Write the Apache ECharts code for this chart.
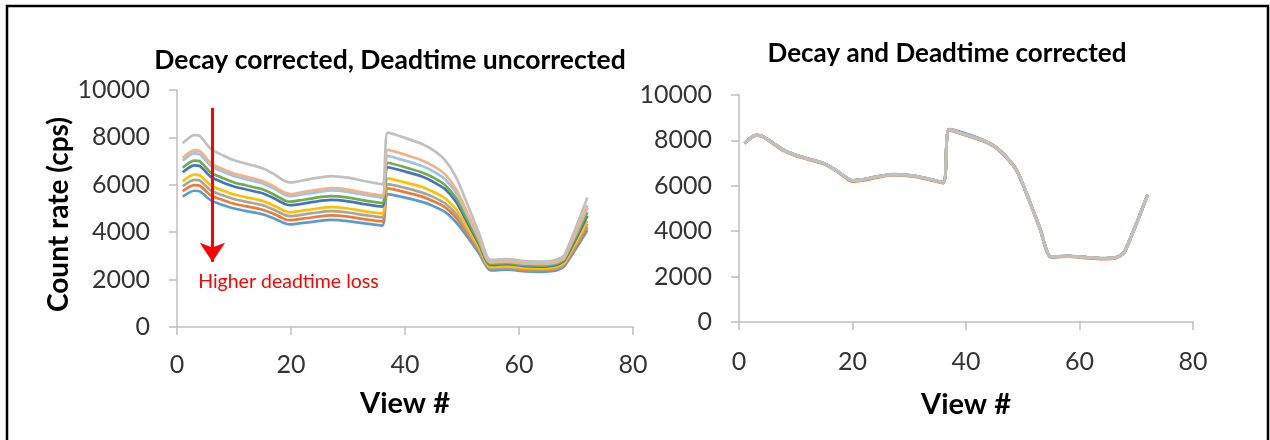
<!DOCTYPE html>
<html>
<head>
<meta charset="utf-8">
<script src="https://cdn.jsdelivr.net/npm/echarts@6/dist/echarts.min.js"></script>
<style>
html,body{margin:0;padding:0;background:#fff;}
#chart{width:1270px;height:440px;}
</style>
</head>
<body>
<div id="chart"></div>
<script>
// ---- data ----
const views = [1,3,4,6,8,10,12,15,17,19,20,22,24,27,30,33,36,37,40,43,45,47,49,51,53,55,58,61,64,66,67,68,72];

// Left chart: decay corrected, deadtime uncorrected (top to bottom)
const uncorrLightGray = [7750,8100,8060,7500,7250,7040,6900,6700,6450,6150,6100,6180,6270,6370,6300,6150,6030,8200,7980,7720,7450,7050,6300,5150,3950,2830,2860,2780,2760,2800,2880,3050,5470];
const uncorrSalmon    = [7130,7450,7420,6900,6670,6480,6350,6160,5930,5660,5610,5690,5770,5860,5800,5660,5550,7470,7270,7030,6790,6450,5800,4790,3750,2750,2770,2700,2680,2720,2790,2960,5140];
const uncorrLightBlue = [7010,7330,7290,6790,6560,6370,6240,6060,5840,5570,5520,5590,5670,5760,5700,5570,5460,7220,7020,6790,6560,6240,5640,4690,3690,2720,2750,2670,2650,2690,2760,2930,5030];
const uncorrGreen     = [6720,7020,6990,6500,6290,6100,5980,5810,5590,5330,5290,5360,5440,5520,5460,5330,5230,6930,6740,6520,6300,5990,5420,4510,3570,2660,2690,2610,2590,2630,2710,2870,4840];
const uncorrDarkBlue  = [6530,6820,6790,6320,6100,5930,5810,5640,5430,5180,5140,5200,5280,5360,5300,5180,5080,6740,6560,6350,6120,5820,5260,4380,3500,2620,2650,2570,2550,2590,2660,2820,4700];
const uncorrGold      = [6150,6430,6400,5960,5760,5590,5480,5320,5120,4880,4840,4910,4980,5060,5000,4880,4790,6270,6100,5910,5700,5430,4950,4170,3360,2530,2560,2490,2470,2510,2580,2730,4490];
const uncorrGray      = [5940,6210,6180,5750,5560,5400,5290,5140,4950,4720,4680,4740,4810,4890,4830,4720,4630,6030,5870,5670,5480,5220,4760,4040,3280,2490,2520,2450,2430,2460,2530,2680,4350];
const uncorrOrange    = [5730,5990,5960,5540,5360,5200,5100,4950,4770,4540,4510,4570,4630,4710,4660,4540,4460,5850,5690,5500,5310,5060,4600,3910,3200,2450,2470,2400,2390,2420,2490,2640,4210];
const uncorrBlue      = [5500,5750,5720,5330,5150,5000,4900,4760,4580,4370,4330,4390,4450,4520,4470,4370,4280,5610,5460,5280,5100,4860,4410,3790,3100,2390,2420,2350,2330,2370,2430,2580,4080];

// Right chart: decay and deadtime corrected
const corrected       = [7880,8230,8200,7880,7550,7350,7200,6980,6700,6350,6230,6280,6380,6500,6460,6330,6150,8480,8250,8000,7750,7300,6650,5450,4150,2870,2900,2850,2800,2820,2900,3120,5600];
const correctedOrange = [7860,8210,8180,7850,7520,7320,7170,6950,6670,6310,6190,6240,6350,6470,6430,6300,6110,8460,8220,7970,7720,7270,6620,5420,4120,2850,2880,2820,2770,2790,2880,3100,5580];
const correctedBlue   = [7890,8240,8210,7890,7560,7360,7210,6990,6710,6360,6240,6290,6390,6510,6470,6340,6160,8490,8300,8020,7760,7310,6660,5460,4160,2880,2910,2860,2810,2830,2910,3130,5610];

const xTicks = [0, 80, 20];      // min, max, interval
const yTicks = [0, 10000, 2000]; // min, max, interval

const titleLeft = 'Decay corrected, Deadtime uncorrected';
const titleRight = 'Decay and Deadtime corrected';
const xName = 'View #';
const yName = 'Count rate (cps)';
const annotationText = 'Higher deadtime loss';
const arrowView = 6.2, arrowFrom = 9250, arrowTo = 2750;
const labelView = 3.7, labelValue = 1900;

// ---- styling ----
const FONT = 'Lato, "Open Sans", sans-serif';
const AXIS_COLOR = '#BFBFBF';
const LABEL_COLOR = '#333333';

const leftSeriesDefs = [
  {name:'s1', values: uncorrBlue, color:'#5B9BD5'},
  {name:'s2', values: uncorrOrange, color:'#ED7D31'},
  {name:'s3', values: uncorrGray, color:'#A5A5A5'},
  {name:'s4', values: uncorrGold, color:'#FFC000'},
  {name:'s5', values: uncorrDarkBlue, color:'#4472C4'},
  {name:'s6', values: uncorrGreen, color:'#70AD47'},
  {name:'s7', values: uncorrLightBlue, color:'#9DC3E6'},
  {name:'s8', values: uncorrSalmon, color:'#F4B183'},
  {name:'s9', values: uncorrLightGray, color:'#C0C0C0'}
];
const rightSeriesDefs = [
  {name:'s1', values: correctedBlue, color:'#5B9BD5'},
  {name:'s2', values: correctedOrange, color:'#ED7D31'},
  {name:'s3', values: corrected, color:'#A5A5A5'},
  {name:'s4', values: corrected, color:'#FFC000'},
  {name:'s5', values: corrected, color:'#4472C4'},
  {name:'s6', values: corrected, color:'#70AD47'},
  {name:'s7', values: corrected, color:'#9DC3E6'},
  {name:'s8', values: corrected, color:'#F4B183'},
  {name:'s9', values: corrected, color:'#C0C0C0'}
];

const plainNumber = v => String(v);

function xAxisCfg(grid, gap, margin){
  return {
    type:'value', gridIndex:grid, min:xTicks[0], max:xTicks[1], interval:xTicks[2],
    name:xName, nameLocation:'middle', nameGap:gap,
    nameTextStyle:{fontFamily:FONT, fontWeight:'bold', fontSize:29, color:'#000'},
    axisLine:{show:true, lineStyle:{color:AXIS_COLOR, width:1.5}},
    axisTick:{show:true, inside:false, length:8, lineStyle:{color:AXIS_COLOR, width:1.5}},
    axisLabel:{fontFamily:FONT, fontSize:25, color:LABEL_COLOR, margin:margin, formatter:plainNumber},
    splitLine:{show:false}
  };
}
function yAxisCfg(grid, withName){
  const c = {
    type:'value', gridIndex:grid, min:yTicks[0], max:yTicks[1], interval:yTicks[2],
    axisLine:{show:true, lineStyle:{color:AXIS_COLOR, width:1.5}},
    axisTick:{show:true, inside:false, length:8, lineStyle:{color:AXIS_COLOR, width:1.5}},
    axisLabel:{fontFamily:FONT, fontSize:25, color:LABEL_COLOR, margin:27, formatter:plainNumber},
    splitLine:{show:false}
  };
  if (withName){
    c.name = yName; c.nameLocation = 'middle'; c.nameGap = 104;
    c.nameTextStyle = {fontFamily:FONT, fontWeight:'bold', fontSize:28, color:'#000', padding:[0,12,0,0]};
  }
  return c;
}

const series = [];
leftSeriesDefs.forEach((d, idx) => {
  const s = {
    type:'line', name:d.name, xAxisIndex:0, yAxisIndex:0,
    data: views.map((v,i)=>[v, d.values[i]]),
    showSymbol:false, smooth:0.25, silent:true,
    lineStyle:{color:d.color, width:2.7}, itemStyle:{color:d.color}
  };
  if (idx === 0){
    s.markLine = {
      silent:true, symbol:['none','arrow'], symbolSize:19,
      label:{show:false},
      lineStyle:{color:'#FF0000', width:3, type:'solid'},
      data:[[{coord:[arrowView, arrowFrom]}, {coord:[arrowView, arrowTo]}]]
    };
    s.markPoint = {
      silent:true, symbol:'circle', symbolSize:0.1,
      itemStyle:{color:'rgba(0,0,0,0)'},
      label:{show:true, position:'right', distance:0, formatter:annotationText,
             fontFamily:FONT, fontSize:19.5, color:'#FF0000'},
      data:[{coord:[labelView, labelValue]}]
    };
  }
  series.push(s);
});
rightSeriesDefs.forEach(d => {
  series.push({
    type:'line', name:d.name, xAxisIndex:1, yAxisIndex:1,
    data: views.map((v,i)=>[v, d.values[i]]),
    showSymbol:false, smooth:0.25, silent:true,
    lineStyle:{color:d.color, width:2.9}, itemStyle:{color:d.color}
  });
});

const chart = echarts.init(document.getElementById('chart'), null, {renderer:'canvas'});
chart.setOption({
  animation:false,
  backgroundColor:'#fff',
  title:[
    {text:titleLeft, left:385, top:42, textAlign:'center',
     textStyle:{fontFamily:FONT, fontWeight:'bold', fontSize:26.5, color:'#000'}},
    {text:titleRight, left:942, top:36, textAlign:'center',
     textStyle:{fontFamily:FONT, fontWeight:'bold', fontSize:26, color:'#000'}}
  ],
  grid:[
    {left:177, top:90, width:456, height:237},
    {left:739, top:95, width:454, height:227}
  ],
  xAxis:[xAxisCfg(0, 62, 25), xAxisCfg(1, 68, 27)],
  yAxis:[yAxisCfg(0, true), yAxisCfg(1, false)],
  graphic:[{
    type:'rect', silent:true, z:100,
    shape:{x:7, y:6, width:1261, height:480},
    style:{fill:'none', stroke:'#000', lineWidth:2.5}
  }],
  series: series
});
</script>
</body>
</html>
